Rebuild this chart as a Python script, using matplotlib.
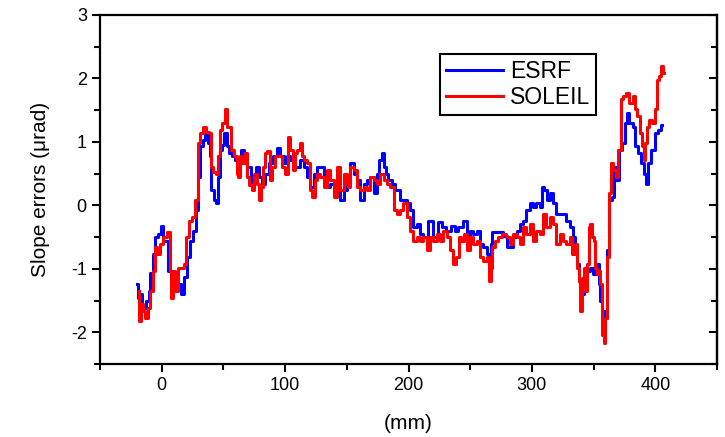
import matplotlib
matplotlib.use("Agg")
import matplotlib.pyplot as plt
from matplotlib.ticker import MultipleLocator

# ESRF profile (mm, urad)
esrf_x=[-19.7,-19.0,-17.1,-14.3,-11.6,-9.7,-8.6,-6.2,-4.3,-1.6,0.5,2.1,4.6,5.9,8.6,11.3,14.0,16.7,19.4,21.5,23.7,26.4,28.8,30.2,32.3,34.2,36.1,38.2,39.6,40.9,43.1,45.0,46.3,47.7,49.8,51.7,53.9,55.7,58.4,61.1,
        62.5,65.2,67.9,70.6,73.3,76.0,77.3,80.0,82.7,85.4,88.1,92.1,94.8,97.5,100.2,102.9,105.6,108.3,111.0,113.7,116.4,119.1,121.8,124.5,127.2,129.9,132.6,135.3,138.0,140.6,143.3,146.0,148.7,
        151.4,154.1,156.8,159.5,162.2,164.9,167.6,170.3,173.0,175.7,177.0,179.2,181.1,182.4,185.1,187.8,190.5,191.9,194.6,197.2,199.9,202.6,205.3,208.0,210.7,213.4,217.5,221.5,225.6,228.3,232.3,236.4,239.1,
        240.3,243.0,245.7,248.4,251.1,253.8,256.5,259.2,261.9,264.6,265.9,267.3,268.6,271.3,275.4,278.1,280.8,283.5,286.2,288.9,291.6,294.2,296.9,299.6,302.3,305.0,307.7,309.1,311.0,313.1,315.8,318.5,321.2,323.9,326.6,
        329.3,332.0,334.6,336.0,337.3,338.7,340.0,341.4,342.7,345.4,348.1,350.8,353.5,354.8,356.2,357.5,358.9,360.2,361.6,363.7,365.6,366.9,369.6,372.3,373.7,376.4,377.7,380.4,383.1,384.5,387.2,389.9,391.2,393.4,395.3,398.0,400.7,403.4,405.3]
esrf_y=[-1.24,-1.46,-1.40,-1.61,-1.51,-1.35,-1.06,-0.77,-0.50,-0.45,-0.33,-0.56,-0.56,-1.03,-1.13,-1.35,-1.24,-1.40,-1.13,-0.82,-0.56,-0.40,-0.08,0.45,0.93,1.03,1.16,0.98,0.77,0.24,0.08,0.03,0.45,0.87,0.95,1.14,0.93,0.82,0.77,0.71,
        0.66,0.87,0.77,0.61,0.34,0.40,0.61,0.45,0.34,0.50,0.66,0.77,0.90,0.77,0.66,0.77,0.71,0.61,0.61,0.71,0.61,0.45,0.29,0.50,0.61,0.61,0.40,0.29,0.34,0.29,0.24,0.08,0.24,
        0.40,0.66,0.50,0.40,0.08,0.34,0.40,0.45,0.19,0.50,0.71,0.82,0.61,0.50,0.40,0.34,0.24,0.24,0.08,0.08,0.03,-0.08,-0.34,-0.29,-0.45,-0.50,-0.24,-0.50,-0.26,-0.34,-0.40,-0.32,-0.40,
        -0.34,-0.34,-0.24,-0.50,-0.40,-0.45,-0.40,-0.61,-0.66,-0.77,-0.82,-0.61,-0.42,-0.42,-0.42,-0.48,-0.66,-0.66,-0.50,-0.40,-0.29,-0.24,-0.08,0.03,-0.03,0.03,-0.03,0.29,0.24,0.08,0.19,0.03,-0.13,-0.13,-0.13,
        -0.24,-0.34,-0.50,-0.66,-0.93,-1.19,-1.24,-1.40,-1.14,-1.03,-0.98,-1.08,-0.93,-1.24,-1.51,-1.72,-1.67,-1.77,-0.71,0.08,0.13,0.61,0.40,0.87,0.98,1.30,1.45,1.30,1.24,0.93,0.82,0.66,0.50,0.34,0.66,0.87,1.14,1.19,1.27]

# SOLEIL profile (mm, urad)
soleil_x=[-18.3,-17.8,-16.2,-14.3,-12.4,-10.3,-8.1,-6.2,-4.9,-2.7,0.0,2.7,5.9,7.0,8.6,10.2,11.9,14.0,16.7,18.9,20.7,23.4,26.1,28.3,30.2,32.3,34.5,37.0,38.8,40.4,42.6,44.7,46.3,48.0,50.1,51.7,53.3,55.7,57.1,59.8,61.9,
          62.5,63.8,66.5,68.4,69.8,71.9,73.8,76.0,78.1,80.0,81.3,83.5,84.6,86.7,88.1,90.8,93.5,96.2,98.9,101.6,102.9,105.1,106.9,108.8,111.0,112.6,114.2,116.4,119.1,121.2,123.1,125.0,127.2,129.9,132.6,135.3,138.0,140.6,142.8,146.0,148.7,150.8,
          151.4,154.1,156.8,159.5,162.2,164.9,167.6,170.3,173.0,175.7,178.4,181.1,183.8,186.5,189.2,191.9,194.6,197.2,199.9,202.6,205.3,208.0,210.7,213.4,216.1,218.8,221.5,224.2,226.9,229.6,232.3,235.0,237.7,239.9,
          240.3,241.7,243.6,245.7,248.4,251.1,253.8,256.5,259.2,261.9,264.6,265.9,267.3,268.6,271.3,274.0,276.7,280.8,283.5,286.2,288.9,291.6,294.2,296.9,299.6,302.3,305.0,307.7,310.4,313.1,315.8,318.5,321.2,323.9,326.6,
          329.3,332.0,333.3,336.0,337.3,338.7,339.5,341.4,342.7,344.1,345.4,346.8,348.1,349.5,350.8,352.2,353.5,354.8,356.2,357.5,358.9,360.2,361.6,363.7,364.8,366.9,369.1,371.0,372.9,375.1,377.7,380.4,383.1,384.5,386.4,388.5,389.9,391.2,392.6,393.9,396.6,398.8,400.7,402.0,404.2,405.3,406.9]
soleil_y=[-1.35,-1.83,-1.56,-1.67,-1.77,-1.61,-1.35,-1.03,-0.66,-0.77,-0.61,-0.50,-0.42,-1.03,-1.46,-1.03,-1.35,-0.98,-0.98,-0.93,-0.50,-0.24,-0.19,0.08,0.98,1.14,1.24,1.16,1.14,0.61,0.53,0.50,0.77,1.19,1.30,1.51,1.24,1.24,0.87,0.77,0.50,
          0.45,0.77,0.66,0.83,0.45,0.32,0.24,0.50,0.34,0.08,0.29,0.61,0.83,0.85,0.40,0.61,0.77,0.77,0.61,0.50,1.08,0.87,0.56,0.83,0.87,0.98,0.77,0.71,0.66,0.24,0.13,0.40,0.50,0.45,0.29,0.56,0.40,0.13,0.61,0.24,0.50,0.34,
          0.29,0.61,0.56,0.29,0.24,0.29,0.24,0.45,0.40,0.34,0.50,0.40,0.34,0.29,-0.08,-0.13,-0.08,0.03,-0.19,-0.40,-0.56,-0.50,-0.56,-0.50,-0.71,-0.50,-0.56,-0.45,-0.56,-0.40,-0.50,-0.71,-0.93,-0.82,
          -0.82,-0.50,-0.56,-0.45,-0.71,-0.50,-0.61,-0.56,-0.82,-0.87,-0.82,-1.19,-0.98,-0.66,-0.56,-0.50,-0.45,-0.50,-0.61,-0.45,-0.50,-0.61,-0.34,-0.45,-0.29,-0.56,-0.40,-0.45,-0.13,-0.34,-0.19,-0.29,-0.61,-0.45,-0.56,
          -0.61,-0.50,-0.77,-0.61,-0.98,-1.19,-1.67,-1.14,-0.98,-1.35,-0.93,-0.34,-0.29,-0.50,-0.56,-0.98,-1.08,-1.03,-1.24,-2.04,-2.17,-1.77,-0.82,0.19,0.66,0.56,0.45,0.87,1.67,1.72,1.77,1.61,1.72,1.51,1.40,1.14,0.93,0.71,0.98,1.24,1.35,1.30,1.51,1.98,2.04,2.20,2.09]

plt.rcParams["font.family"]=["Liberation Sans","DejaVu Sans"];plt.rcParams["axes.unicode_minus"]=False
fig=plt.figure(figsize=(7.25,4.37),dpi=100)
ax=fig.add_axes([0.138,0.167,0.851,0.799])
ax.plot(esrf_x,esrf_y,color="#0000ff",lw=2.2,label="ESRF",drawstyle="steps-mid")
ax.plot(soleil_x,soleil_y,color="#ff0000",lw=2.2,label="SOLEIL",drawstyle="steps-mid")
ax.set_xlim(-50,450);ax.set_ylim(-2.5,3)
ax.xaxis.set_major_locator(MultipleLocator(100));ax.xaxis.set_minor_locator(MultipleLocator(50))
ax.yaxis.set_major_locator(MultipleLocator(1));ax.yaxis.set_minor_locator(MultipleLocator(0.5))
ax.tick_params(which="both",direction="out",width=1.5,labelsize=13)
ax.tick_params(which="major",length=6);ax.tick_params(which="minor",length=4)
ax2=ax.secondary_yaxis("right");ax2.yaxis.set_major_locator(MultipleLocator(1));ax2.yaxis.set_minor_locator(MultipleLocator(0.5))
ax2.tick_params(which="both",direction="in",width=1.5,labelright=False);ax2.tick_params(which="major",length=6);ax2.tick_params(which="minor",length=4)
for s in list(ax.spines.values())+list(ax2.spines.values()):s.set_linewidth(1.6)
ax.set_xlabel("(mm)",fontsize=15,labelpad=14);ax.set_ylabel("Slope errors (μrad)",fontsize=15,labelpad=15)
leg=ax.legend(loc="upper left",bbox_to_anchor=(0.551,0.888),borderaxespad=0,fontsize=16.5,handlelength=2.5,fancybox=False,framealpha=1,borderpad=0.25,labelspacing=0.15,handletextpad=0.3)
leg.get_frame().set_edgecolor("black");leg.get_frame().set_linewidth(1.5)
for h in leg.get_lines():h.set_linewidth(2.2)
fig.savefig("out.png",dpi=100)
